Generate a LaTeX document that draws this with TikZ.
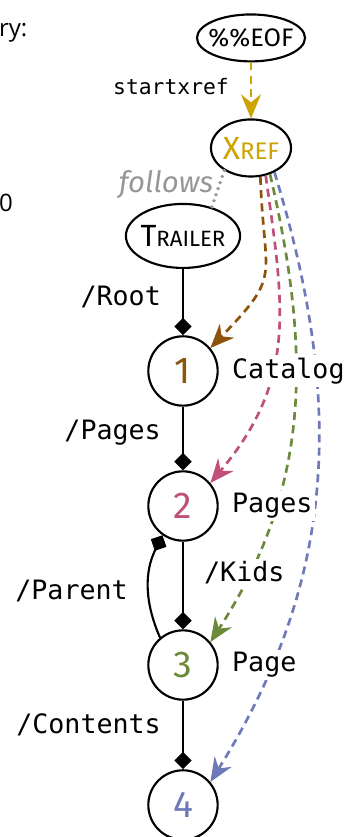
\documentclass[tikz,border=0pt]{standalone}
\usepackage{fontspec}
\setmainfont{Fira Sans}
\setmonofont{DejaVu Sans Mono}
\newfontfamily\notefont{Open Sans}
\usepackage{xcolor}
\usetikzlibrary{arrows.meta,shapes.geometric,positioning}

\definecolor{xrefgold}{RGB}{204,163,0}
\definecolor{catbrown}{RGB}{139,84,10}
\definecolor{pagespink}{RGB}{192,80,122}
\definecolor{pagegreen}{RGB}{107,138,58}
\definecolor{contblue}{RGB}{110,122,184}
\definecolor{notegray}{RGB}{150,150,150}

% first letter big, the rest smaller
\newcommand{\capword}[4]{{\fontsize{#1}{#1}\selectfont #3}{\fontsize{#2}{#2}\selectfont #4}}

\begin{document}
\begin{tikzpicture}[
    obj/.style = {circle, draw, line width=0.8pt, minimum size=26pt, inner sep=0pt, font=\fontsize{14}{16}\selectfont},
    sect/.style = {ellipse, draw, line width=0.8pt, inner sep=-8pt},
    kw/.style = {font=\ttfamily, inner sep=1pt},
    ref/.style = {line width=0.8pt, -{Diamond[length=6.5pt,width=6.5pt]}},
    look/.style = {line width=1pt, dash pattern=on 3pt off 2pt, -{Stealth[length=9pt,width=7.5pt,inset=3pt]}}
]
    \useasboundingbox (0,0) rectangle (4.638,11.028);

    % cut-off text on the left
    \node at (-0.02,10.593) [anchor=west,inner sep=0pt,font=\notefont\fontsize{9}{11}\selectfont] (sumry) {ry:};
    \node at (-0.02,8.354) [anchor=west,inner sep=0pt,font=\notefont\fontsize{9}{11}\selectfont] (zero) {0};

    % file sections
    \node at (3.307,10.528) [sect,minimum width=40.5pt,minimum height=17.6pt,font=\fontsize{9.5}{11}\selectfont] (eof) {\%\%EOF};
    \node at (3.307,9.078) [sect,minimum width=30pt,minimum height=21.4pt,text=xrefgold] (xref) {\capword{12}{9}{X}{REF}};
    \node at (2.411,7.919) [sect,minimum width=42.8pt,minimum height=24pt] (trailer) {\capword{11.5}{8.3}{T}{RAILER}};

    % objects
    \node at (2.411,6.140) [obj,text=catbrown] (n1) {1};
    \node at (2.411,4.361) [obj,text=pagespink] (n2) {2};
    \node at (2.411,2.266) [obj,text=pagegreen] (n3) {3};
    \node at (2.411,0.422) [obj,text=contblue] (n4) {4};

    \draw [look,xrefgold] (eof) -- (xref);
    \node at (3.057,9.882) [kw,anchor=east,font=\ttfamily\footnotesize] (sx) {startxref};

    \draw [notegray,line width=1.4pt,line cap=round,dash pattern=on 0pt off 2.4pt] (xref.-140) -- (trailer.45);
    \node at (2.187,8.600) [text=notegray,font=\itshape\fontsize{11}{13}\selectfont] (fol) {follows};

    % references
    \draw [ref] (trailer) -- (n1);
    \draw [ref] (n1) -- (n2);
    \draw [ref] (n2) -- (n3);
    \draw [ref] (n3) -- (n4);
    \draw [ref] (n3.130) to[bend left=25] (n2.-125);

    % xref offsets
    \draw [look,catbrown] (xref.-72) to[out=-88,in=46,looseness=1.5] (n1.40);
    \draw [look,pagespink] (xref.-62) to[out=-82,in=50,looseness=1.1] (n2.40);
    \draw [look,pagegreen] (xref.-54) to[out=-77,in=57] (n3.40);
    \draw [look,contblue] (xref.-46) to[out=-73,in=58] (n4.40);

    % keys
    \node at (2.161,7.115) [kw,anchor=east] (kroot) {/Root};
    \node at (2.161,5.323) [kw,anchor=east] (kpages) {/Pages};
    \node at (2.648,3.478) [kw,anchor=west,fill=white] (kkids) {/Kids};
    \node at (1.726,3.241) [kw,anchor=east] (kparent) {/Parent};
    \node at (2.161,1.476) [kw,anchor=east] (kcont) {/Contents};

    % types
    \node at (3.017,6.140) [kw,anchor=west,fill=white] (tcat) {Catalog};
    \node at (3.017,4.361) [kw,anchor=west,fill=white] (tpages) {Pages};
    \node at (3.017,2.266) [kw,anchor=west,fill=white] (tpage) {Page};
\end{tikzpicture}
\end{document}
